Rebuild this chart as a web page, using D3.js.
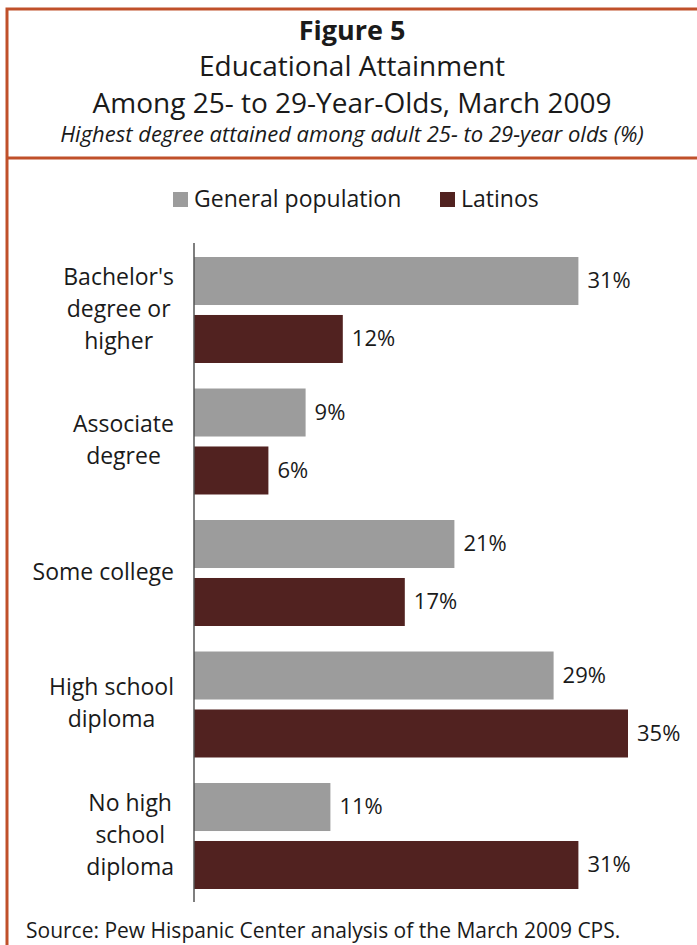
<!DOCTYPE html>
<html>
<head>
<meta charset="utf-8">
<title>Figure 5 - Educational Attainment</title>
<script src="https://cdn.jsdelivr.net/npm/d3@7/dist/d3.min.js"></script>
<style>
  body { margin: 0; background: #fff; }
  svg text { font-family: "Open Sans", Lato, sans-serif; fill: #1a1a1a; }
</style>
</head>
<body>
<script>
// data
var categories = ["Bachelor's degree or higher", "Associate degree", "Some college", "High school diploma", "No high school diploma"];
var categoryLines = [["Bachelor's", "degree or", "higher"], ["Associate", "degree"], ["Some college"], ["High school", "diploma"], ["No high", "school", "diploma"]];
var seriesNames = ["General population", "Latinos"];
var general = [31, 9, 21, 29, 11];
var latinos = [12, 6, 17, 35, 31];
var colors = ["#9c9c9c", "#512220"];

var width = 697, height = 945;
var border = "#c0502a";

var svg = d3.select("body").append("svg")
    .attr("width", width)
    .attr("height", height);

svg.append("rect").attr("width", width).attr("height", height).attr("fill", "#fff");

// frame
svg.append("path")
    .attr("d", "M7," + height + "V9H" + width)
    .attr("fill", "none").attr("stroke", border).attr("stroke-width", 3);
svg.append("line")
    .attr("x1", 7).attr("x2", width).attr("y1", 158).attr("y2", 158)
    .attr("stroke", border).attr("stroke-width", 3);

// titles
var cx = 352;
svg.append("text").attr("x", cx).attr("y", 40).attr("text-anchor", "middle")
    .style("font-size", "27px").style("font-weight", "bold").text("Figure 5");
svg.append("text").attr("x", cx).attr("y", 76).attr("text-anchor", "middle")
    .style("font-size", "28px").text("Educational Attainment");
svg.append("text").attr("x", cx).attr("y", 113).attr("text-anchor", "middle")
    .style("font-size", "28px").text("Among 25- to 29-Year-Olds, March 2009");
svg.append("text").attr("x", cx).attr("y", 142).attr("text-anchor", "middle")
    .style("font-size", "22px").style("font-style", "italic")
    .text("Highest degree attained among adult 25- to 29-year olds (%)");

// legend
var legendX = [173, 440];
var legend = svg.selectAll(".legend").data(seriesNames).enter().append("g")
    .attr("class", "legend")
    .attr("transform", function(d, i) { return "translate(" + legendX[i] + ",192)"; });
legend.append("rect").attr("width", 15).attr("height", 15)
    .attr("fill", function(d, i) { return colors[i]; });
legend.append("text").attr("x", 21).attr("y", 15)
    .style("font-size", "23px").text(function(d) { return d; });

// scales
var x = d3.scaleLinear().domain([0, 35]).range([194, 628]);
var y = d3.scaleBand().domain(categories).range([257, 889]).paddingInner(0.194);
var ySub = d3.scaleBand().domain(seriesNames).range([0, y.bandwidth()]).paddingInner(0.172);

var rows = categories.map(function(c, i) {
  return {cat: c, lines: categoryLines[i], values: [general[i], latinos[i]]};
});

var group = svg.selectAll(".group").data(rows).enter().append("g")
    .attr("class", "group")
    .attr("transform", function(d) { return "translate(0," + y(d.cat) + ")"; });

group.selectAll("rect").data(function(d) {
    return d.values.map(function(v, i) { return {name: seriesNames[i], value: v, i: i}; });
  }).enter().append("rect")
    .attr("x", x(0))
    .attr("y", function(d) { return ySub(d.name); })
    .attr("width", function(d) { return x(d.value) - x(0); })
    .attr("height", ySub.bandwidth())
    .attr("fill", function(d) { return colors[d.i]; });

group.selectAll(".val").data(function(d) {
    return d.values.map(function(v, i) { return {name: seriesNames[i], value: v}; });
  }).enter().append("text")
    .attr("class", "val")
    .attr("x", function(d) { return x(d.value) + 9; })
    .attr("y", function(d) { return ySub(d.name) + ySub.bandwidth() / 2; })
    .attr("dy", "0.33em")
    .style("font-size", "22px")
    .text(function(d) { return d.value + "%"; });

// category labels: block centred, widest line ending at x = 174
var lineH = 32;
group.each(function(d) {
  var g = d3.select(this);
  var mid = y.bandwidth() / 2;
  var t = g.append("text").attr("text-anchor", "middle").style("font-size", "23px");
  var spans = t.selectAll("tspan").data(d.lines).enter().append("tspan")
      .attr("y", function(l, k) { return mid + 7 + (k - (d.lines.length - 1) / 2) * lineH; })
      .text(function(l) { return l; });
  var maxW = 0;
  spans.each(function() { maxW = Math.max(maxW, this.getComputedTextLength()); });
  spans.attr("x", 174 - maxW / 2);
});

// axis line
svg.append("line")
    .attr("x1", x(0)).attr("x2", x(0)).attr("y1", 243).attr("y2", 902)
    .attr("stroke", "#555").attr("stroke-width", 1.5);

// source
svg.append("text").attr("x", 26).attr("y", 938)
    .style("font-size", "21px")
    .text("Source: Pew Hispanic Center analysis of the March 2009 CPS.");
</script>
</body>
</html>
